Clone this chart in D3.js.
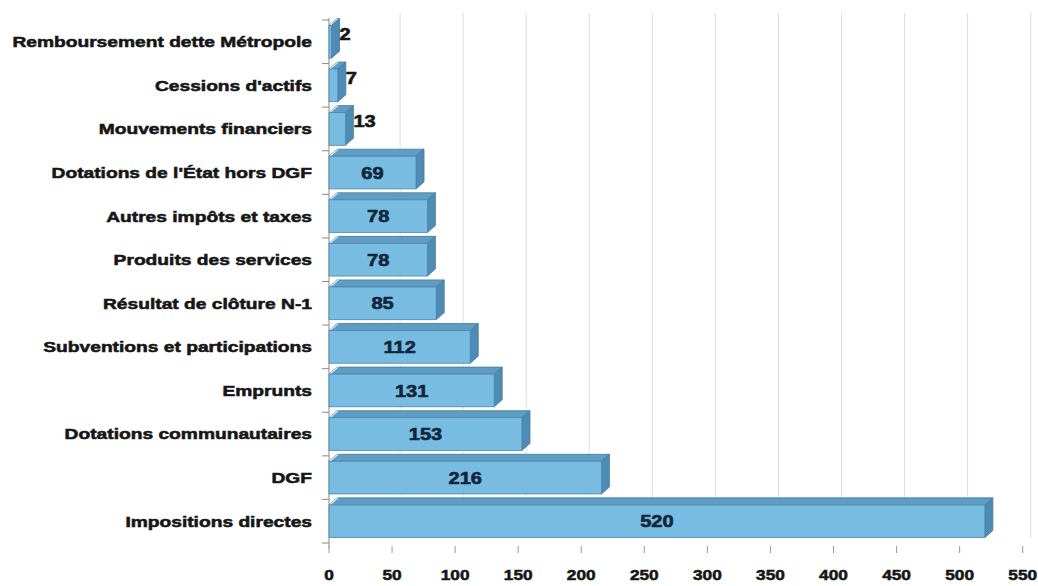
<!DOCTYPE html>
<html>
<head>
<meta charset="utf-8">
<script src="https://cdn.jsdelivr.net/npm/d3@7"></script>
<style>
  html, body { margin: 0; padding: 0; background: #fff; }
  svg { display: block; }
  text { font-family: "Liberation Sans", Arial, sans-serif; font-weight: bold; }
</style>
</head>
<body>
<svg id="chart" width="1038" height="586"></svg>
<script>
// Recettes par poste (M€)
const categories = [
  "Remboursement dette Métropole",
  "Cessions d'actifs",
  "Mouvements financiers",
  "Dotations de l'État hors DGF",
  "Autres impôts et taxes",
  "Produits des services",
  "Résultat de clôture N-1",
  "Subventions et participations",
  "Emprunts",
  "Dotations communautaires",
  "DGF",
  "Impositions directes"
];
const values = [2, 7, 13, 69, 78, 78, 85, 112, 131, 153, 216, 520];
const xTicks = [0, 50, 100, 150, 200, 250, 300, 350, 400, 450, 500, 550];

const svg = d3.select("#chart");

const x = d3.scaleLinear().domain([0, 550]).range([329, 1022.7]);
const y = d3.scaleBand().domain(categories).range([20, 543])
  .paddingInner(0.25).paddingOuter(0.125);

// 3D depth of the bars
const dx = 8, dy = 7;
const stretch = 1.28;

// Back-wall gridlines (shifted by the depth)
svg.append("g").selectAll("line").data(xTicks.slice(1)).join("line")
  .attr("x1", d => x(d) + dx).attr("x2", d => x(d) + dx)
  .attr("y1", 13).attr("y2", 538)
  .attr("stroke", "#dedede").attr("stroke-width", 1);

// Left axis with ticks at band boundaries
const yAxis = svg.append("g");
yAxis.append("line").attr("x1", 329).attr("x2", 329).attr("y1", 18).attr("y2", 548)
  .attr("stroke", "#8a8a8a").attr("stroke-width", 1);
const bounds = categories.map((c, i) => y(c) - y.step() * y.paddingInner() / 2)
  .concat([y(categories[categories.length - 1]) + y.bandwidth() + y.step() * y.paddingInner() / 2]);
yAxis.selectAll("line.tick").data(bounds).join("line").attr("class", "tick")
  .attr("x1", 322).attr("x2", 329).attr("y1", d => d).attr("y2", d => d)
  .attr("stroke", "#8a8a8a");

// Category labels
svg.append("g").selectAll("g").data(categories).join("g")
  .attr("transform", d => `translate(312,${y(d) + y.bandwidth() / 2}) scale(${stretch},1)`)
  .append("text")
  .attr("text-anchor", "end").attr("dy", "0.36em")
  .attr("font-size", 15).attr("fill", "#161616")
  .attr("stroke", "#161616").attr("stroke-width", 0.55)
  .text(d => d);

// Bottom ticks and labels
const xAxis = svg.append("g");
xAxis.selectAll("line").data(xTicks).join("line")
  .attr("x1", d => x(d)).attr("x2", d => x(d)).attr("y1", 546).attr("y2", 553)
  .attr("stroke", "#9a9a9a");
xAxis.selectAll("g").data(xTicks).join("g")
  .attr("transform", d => `translate(${x(d)},575) scale(1.15,1)`)
  .append("text").attr("text-anchor", "middle").attr("dy", "0.36em")
  .attr("font-size", 15).attr("fill", "#161616")
  .attr("stroke", "#161616").attr("stroke-width", 0.55)
  .text(d => d);

// Bars
const rows = categories.map((c, i) => ({ c, v: values[i] }));
const bars = svg.append("g").selectAll("g").data(rows).join("g");

bars.each(function (d) {
  const g = d3.select(this);
  const x0 = x(0), x1 = x(d.v);
  const yT = y(d.c), yB = yT + y.bandwidth();
  const pts = p => p.map(q => q.join(",")).join(" ");
  // top face
  g.append("polygon")
    .attr("points", pts([[x0, yT], [x0 + dx, yT - dy], [x1 + dx, yT - dy], [x1, yT]]))
    .attr("fill", "#5f9dc3").attr("stroke", "#41799f").attr("stroke-width", 0.8);
  // light sheen at the left end of the top face
  g.append("polygon")
    .attr("points", pts([[x0, yT], [x0 + dx, yT - dy], [x0 + dx + 2, yT - dy], [x0 + 2, yT]]))
    .attr("fill", "#e8f4fb").attr("opacity", 0.85);
  // right face
  g.append("polygon")
    .attr("points", pts([[x1, yT], [x1 + dx, yT - dy], [x1 + dx, yB - dy], [x1, yB]]))
    .attr("fill", "#4f8cb5").attr("stroke", "#41799f").attr("stroke-width", 0.8);
  // front face
  g.append("rect")
    .attr("x", x0).attr("y", yT).attr("width", x1 - x0).attr("height", yB - yT)
    .attr("fill", "#72b8df").attr("fill-opacity", 0.95)
    .attr("stroke", "#4a88b3").attr("stroke-width", 0.8);
});

// Value labels: inside the front face for long bars, beside the bar for short ones
bars.append("g")
  .attr("transform", d => {
    const inside = d.v >= 40;
    const cx = inside ? (x(0) + x(d.v)) / 2 : x(d.v) + dx;
    const cy = y(d.c) + y.bandwidth() / 2 - (inside ? 0 : dy + 1);
    return `translate(${cx},${cy}) scale(1.18,1)`;
  })
  .append("text")
  .attr("text-anchor", d => d.v >= 40 ? "middle" : "start")
  .attr("dy", "0.36em").attr("font-size", 17)
  .attr("fill", d => d.v >= 40 ? "#10253b" : "#161616")
  .attr("stroke", d => d.v >= 40 ? "#10253b" : "#161616").attr("stroke-width", 0.6)
  .text(d => d.v);
</script>
</body>
</html>
